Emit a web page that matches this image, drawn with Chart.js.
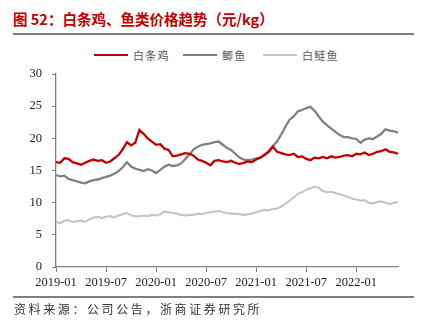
<!DOCTYPE html>
<html>
<head>
<meta charset="utf-8">
<script src="https://cdn.jsdelivr.net/npm/chart.js@4/dist/chart.umd.min.js"></script>
<style>
  html, body { margin: 0; padding: 0; background: #fff; }
  #wrap { position: relative; width: 422px; height: 326px; overflow: hidden; }
  #title { position: absolute; left: 13px; top: 8px; font: bold 14.5px "Noto Sans CJK SC", sans-serif; color: #c00000; white-space: nowrap; }
  .rule { position: absolute; left: 13px; width: 401px; height: 1.5px; background: #7f7f7f; }
  .lg-line { position: absolute; top: 54px; width: 34px; height: 2px; }
  .lg-text { position: absolute; top: 47px; font: 11px "Noto Sans CJK SC", sans-serif; color: #595959; letter-spacing: 1.2px; white-space: nowrap; }
  #source { position: absolute; left: 14px; top: 300px; font: 12px "Noto Sans CJK SC", sans-serif; color: #333; letter-spacing: 2.6px; white-space: nowrap; }
  canvas { position: absolute; left: 0; top: 0; }
</style>
</head>
<body>
<div id="wrap">
  <div id="title">图 52：白条鸡、鱼类价格趋势（元/kg）</div>
  <div class="rule" style="top:33px"></div>
  <div class="lg-line" style="left:94px;background:#c00000"></div>
  <div class="lg-text" style="left:133px">白条鸡</div>
  <div class="lg-line" style="left:183px;background:#808080"></div>
  <div class="lg-text" style="left:222px">鲫鱼</div>
  <div class="lg-line" style="left:263px;background:#c4c4c4"></div>
  <div class="lg-text" style="left:302px">白鲢鱼</div>
  <canvas id="chart" width="422" height="326"></canvas>
  <div class="rule" style="top:296px"></div>
  <div id="source">资料来源：公司公告，浙商证券研究所</div>
</div>
<script>
// Half-monthly price observations, 2019-01-01 .. 2022-06-01 (元/kg)
const dates = [];
for (let y = 2019; y <= 2022; y++) {
  for (let m = 1; m <= 12; m++) {
    const mm = String(m).padStart(2, '0');
    dates.push(`${y}-${mm}-01`);
    if (y === 2022 && m === 6) break;
    dates.push(`${y}-${mm}-15`);
  }
}
const dateLabels = dates.slice(0, 83);

const tickLabels = ['2019-01', '2019-07', '2020-01', '2020-07', '2021-01', '2021-07', '2022-01'];

const chicken = [
  16.3, 16.2, 16.9, 16.8, 16.3, 16.1, 15.9, 16.2, 16.5, 16.7, 16.5, 16.6,
  16.2, 16.4, 16.9, 17.4, 18.3, 19.4, 18.9, 19.3, 21.3, 20.7, 20.0, 19.5,
  19.0, 19.1, 18.4, 18.2, 17.2, 17.3, 17.5, 17.7, 17.6, 17.3, 16.7, 16.5,
  16.2, 15.8, 16.5, 16.6, 16.4, 16.3, 16.5, 16.2, 16.0, 16.2, 16.4, 16.3,
  16.7, 17.0, 17.4, 17.9, 18.7, 17.9, 17.7, 17.5, 17.4, 17.6, 17.1, 17.2,
  16.8, 16.6, 17.0, 16.9, 17.1, 16.9, 17.2, 17.0, 17.1, 17.3, 17.4, 17.2,
  17.6, 17.5, 17.8, 17.4, 17.6, 17.9, 18.0, 18.3, 17.9, 17.8, 17.6
];

const crucian = [
  14.3, 14.1, 14.2, 13.7, 13.5, 13.3, 13.1, 13.0, 13.3, 13.5, 13.6, 13.8,
  14.0, 14.2, 14.5, 14.9, 15.5, 16.3, 15.6, 15.3, 15.1, 14.9, 15.2, 15.0,
  14.6, 15.1, 15.6, 15.9, 15.7, 15.8, 16.1, 16.8, 17.5, 18.3, 18.7, 19.0,
  19.1, 19.2, 19.4, 19.5, 19.0, 18.5, 18.2, 17.6, 17.0, 16.7, 16.6, 16.7,
  16.9, 17.0, 17.5, 18.0, 18.8, 19.5, 20.6, 21.8, 22.9, 23.4, 24.2, 24.4,
  24.7, 24.9, 24.3, 23.4, 22.6, 22.0, 21.5, 21.0, 20.5, 20.2, 20.2, 20.0,
  19.9, 19.3, 19.8, 20.0, 19.9, 20.3, 20.7, 21.4, 21.2, 21.1, 20.9
];

const silverCarp = [
  7.0, 6.8, 7.2, 7.3, 7.0, 7.1, 7.2, 7.0, 7.4, 7.7, 7.8, 7.6,
  7.8, 7.9, 7.7, 8.0, 8.2, 8.4, 8.0, 7.9, 7.9, 8.0, 7.9, 8.1,
  8.0, 8.2, 8.6, 8.5, 8.4, 8.3, 8.1, 8.0, 8.1, 8.1, 8.3, 8.2,
  8.4, 8.5, 8.6, 8.7, 8.5, 8.4, 8.3, 8.3, 8.2, 8.1, 8.2, 8.3,
  8.5, 8.7, 8.9, 8.8, 9.0, 9.1, 9.4, 9.8, 10.3, 10.8, 11.4, 11.6,
  12.0, 12.2, 12.5, 12.3, 11.8, 11.6, 11.7, 11.5, 11.3, 11.1, 10.9, 10.6,
  10.5, 10.3, 10.4, 10.0, 9.9, 10.1, 10.2, 10.0, 9.8, 10.0, 10.1
];

const axisColor = '#808080';
const tickFont = { family: '"Liberation Serif", "Times New Roman", serif', size: 12.5 };

new Chart(document.getElementById('chart'), {
  type: 'line',
  data: {
    labels: dateLabels,
    datasets: [
      { label: '白条鸡', data: chicken, borderColor: '#c00000', borderWidth: 2.3, pointRadius: 0, tension: 0 },
      { label: '鲫鱼', data: crucian, borderColor: '#808080', borderWidth: 2.3, pointRadius: 0, tension: 0 },
      { label: '白鲢鱼', data: silverCarp, borderColor: '#c4c4c4', borderWidth: 2.1, pointRadius: 0, tension: 0 }
    ]
  },
  options: {
    responsive: false,
    animation: false,
    layout: { padding: { left: 0, right: 24, top: 74, bottom: 0 } },
    plugins: { legend: { display: false }, tooltip: { enabled: false } },
    scales: {
      x: {
        type: 'category',
        offset: false,
        afterBuildTicks(scale) {
          scale.ticks = scale.ticks.filter(t => {
            const d = dateLabels[t.value];
            return d.endsWith('-01') && tickLabels.includes(d.slice(0, 7));
          });
        },
        afterFit(scale) { scale.height = 59; },
        ticks: {
          autoSkip: false,
          maxRotation: 0,
          padding: 3,
          color: '#222',
          font: tickFont,
          callback(value) { return dateLabels[value].slice(0, 7); }
        },
        grid: { display: true, drawOnChartArea: false, drawTicks: true, tickLength: 5, color: axisColor },
        border: { display: true, color: axisColor, width: 1.3 }
      },
      y: {
        min: 0,
        max: 30,
        afterFit(scale) { scale.width = 56; },
        ticks: { stepSize: 5, padding: 10, color: '#222', font: tickFont },
        grid: { display: true, drawOnChartArea: false, drawTicks: true, tickLength: 4, color: axisColor },
        border: { display: true, color: axisColor, width: 1.3 }
      }
    }
  }
});
</script>
</body>
</html>
